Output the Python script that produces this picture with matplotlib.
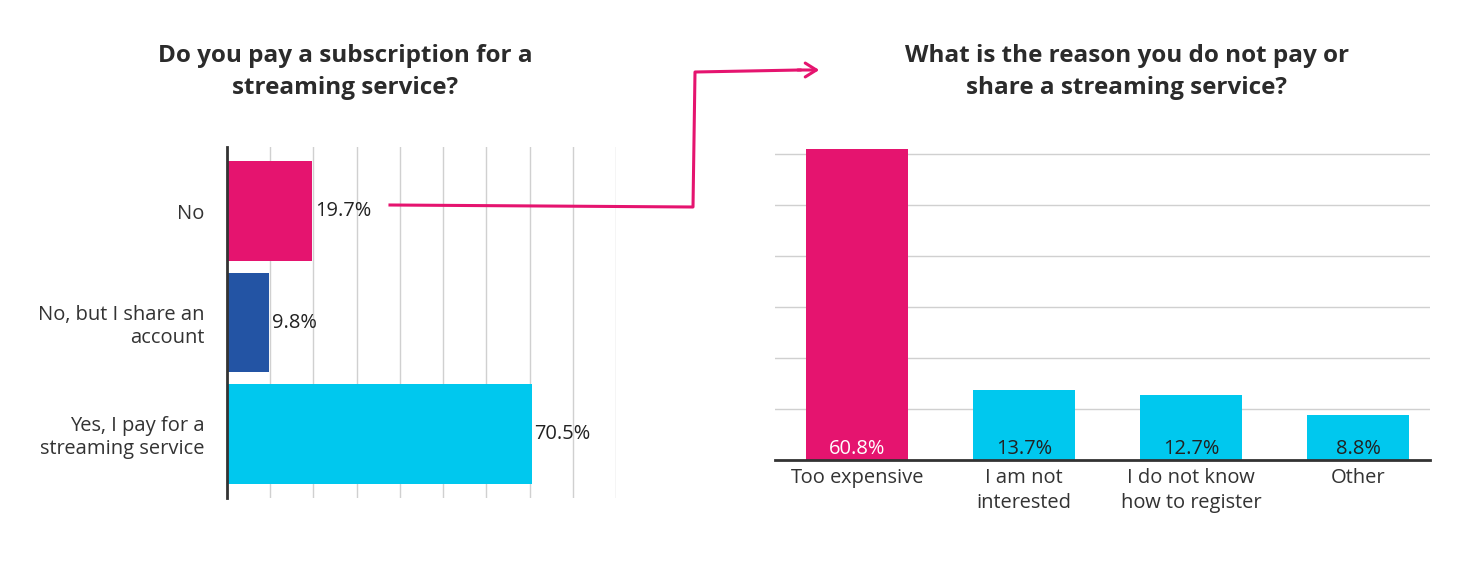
import matplotlib
matplotlib.use("Agg")
import matplotlib.pyplot as plt
from matplotlib.lines import Line2D
from matplotlib.patches import FancyArrowPatch

plt.rcParams["font.family"] = "Open Sans"

left_cats = ["No", "No, but I share an\naccount", "Yes, I pay for a\nstreaming service"]
left_vals = [19.7, 9.8, 70.5]
left_colors = ["#E5146F", "#2354A4", "#00C8EE"]

right_cats = ["Too expensive", "I am not\ninterested", "I do not know\nhow to register", "Other"]
right_vals = [60.8, 13.7, 12.7, 8.8]
right_colors = ["#E5146F", "#00C8EE", "#00C8EE", "#00C8EE"]

W, H = 1480, 572
fig = plt.figure(figsize=(14.8, 5.72), dpi=100)

def ax_px(x0, y0, x1, y1):
    return fig.add_axes([x0 / W, 1 - y1 / H, (x1 - x0) / W, (y1 - y0) / H])

# Left chart
ax1 = ax_px(227, 147, 616, 498)
ypos = list(range(len(left_cats)))
ax1.barh(ypos, left_vals, color=left_colors, height=0.9, zorder=2)
ax1.set_xlim(0, 90)
ax1.set_ylim(2.58, -0.58)
ax1.set_xticks(range(0, 91, 10))
ax1.grid(axis="x", color="#d0d0d0", lw=1, zorder=0)
ax1.set_yticks(ypos)
ax1.set_yticklabels(left_cats, fontsize=14.5, color="#333333", ha="right")
ax1.tick_params(axis="y", length=0, pad=16)
ax1.tick_params(axis="x", length=0, labelbottom=False)
for s in ["top", "right", "bottom"]:
    ax1.spines[s].set_visible(False)
ax1.spines["left"].set_color("#333333")
ax1.spines["left"].set_linewidth(2)
for y, v in zip(ypos, left_vals):
    ax1.text(v + 0.6, y, f"{v}%", va="center", ha="left", fontsize=14.5, color="#222222")
fig.text(345 / W, 1 - 72 / H, "Do you pay a subscription for a\nstreaming service?",
         ha="center", va="center", fontsize=17.5, fontweight="bold", color="#2b2b2b", linespacing=1.45)

# Right chart
ax2 = ax_px(775, 150, 1430, 460)
xpos = list(range(len(right_cats)))
ax2.bar(xpos, right_vals, color=right_colors, width=0.61, zorder=2)
ax2.set_ylim(0, 60.8 * 306.6 / 300 * 300 / 306.6 * 310 / 306.6 * 60 / 60.8 if False else 60.7)
ax2.set_xlim(-0.49, 3.43)
ax2.set_yticks(range(0, 61, 10))
ax2.grid(axis="y", color="#d0d0d0", lw=1, zorder=0)
ax2.tick_params(axis="y", length=0, labelleft=False)
ax2.set_xticks(xpos)
ax2.set_xticklabels(right_cats, fontsize=14.5, color="#333333", linespacing=1.3)
ax2.tick_params(axis="x", length=0, pad=6)
for s in ["top", "right", "left"]:
    ax2.spines[s].set_visible(False)
ax2.spines["bottom"].set_color("#333333")
ax2.spines["bottom"].set_linewidth(2)
for b in ax2.patches:
    b.set_clip_on(False)
for x, v in zip(xpos, right_vals):
    ax2.text(x, 2.2, f"{v}%", ha="center", va="center", fontsize=14.5, color="white" if x == 0 else "#222222")
fig.text(1127 / W, 1 - 72 / H, "What is the reason you do not pay or\nshare a streaming service?",
         ha="center", va="center", fontsize=17.5, fontweight="bold", color="#2b2b2b", linespacing=1.45)

# Connector arrow
pts = [(390, 205), (693, 207), (695, 72), (800, 70)]
xs = [p[0] / W for p in pts]
ys = [1 - p[1] / H for p in pts]
fig.add_artist(Line2D(xs, ys, color="#E5146F", lw=2.2, transform=fig.transFigure))
arr = FancyArrowPatch((795 / W, 1 - 70 / H), (822 / W, 1 - 70 / H), transform=fig.transFigure,
                      arrowstyle="->,head_length=8,head_width=5", color="#E5146F", lw=2.2)
fig.add_artist(arr)

fig.savefig("out.png", dpi=100)
